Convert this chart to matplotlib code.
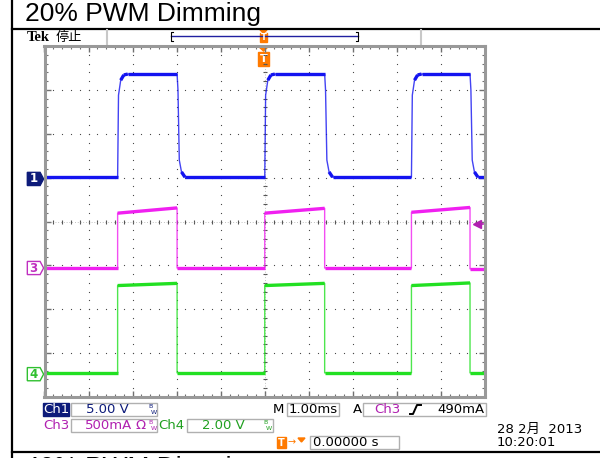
import matplotlib.pyplot as plt
import numpy as np
from matplotlib.patches import Rectangle, Polygon

# time in ms (1.00 ms/div, trigger at 0), amplitude in screen divisions
blue_t = [-5.0, -3.34, -3.32, -3.27, -3.20, -3.11, -1.99, -1.97, -1.94, -1.89, -1.81,
          0.0, 0.02, 0.07, 0.14, 0.23, 1.36, 1.38, 1.41, 1.46, 1.54,
          3.33, 3.35, 3.40, 3.47, 3.56, 4.66, 4.68, 4.71, 4.76, 4.84, 5.0]
blue_v = [1.01, 1.01, 2.88, 3.22, 3.34, 3.36, 3.36, 3.0, 1.40, 1.13, 1.01,
          1.01, 2.88, 3.22, 3.34, 3.36, 3.36, 3.0, 1.40, 1.13, 1.01,
          1.01, 2.88, 3.22, 3.34, 3.36, 3.36, 3.0, 1.40, 1.13, 1.01, 1.01]

mag_t = [-5.0, -3.34, -3.34, -1.99, -1.99, 0.0, 0.0, 1.36, 1.36, 3.33, 3.33, 4.66, 4.66, 5.0]
mag_v = [-1.06, -1.06, 0.19, 0.31, -1.06, -1.06, 0.19, 0.30, -1.06, -1.06, 0.21, 0.32, -1.08, -1.08]

green_t = [-5.0, -3.34, -3.34, -1.99, -1.99, 0.0, 0.0, 1.36, 1.36, 3.33, 3.33, 4.66, 4.66, 5.0]
green_v = [-3.45, -3.45, -1.46, -1.41, -3.45, -3.45, -1.46, -1.41, -3.45, -3.45, -1.46, -1.40, -3.45, -3.45]

ch_levels = [0.97, -1.06, -3.48]   # ground markers for Ch1, Ch3, Ch4
ch_names = ['1', '3', '4']
trig_level = -0.06

BLUE = '#1414f0'
MAG = '#f020f0'
GREEN = '#22e022'
NAVY = '#0d1b7a'
PURP = '#b020b0'
DGREEN = '#20a020'
ORANGE = '#ff7a00'

fig = plt.figure(figsize=(6, 4.58), dpi=100)

# background axes in pixel coordinates
bg = fig.add_axes([0, 0, 1, 1])
bg.set_xlim(0, 600)
bg.set_ylim(458, 0)
bg.axis('off')

bg.plot([12, 12], [0, 458], color='black', lw=1.6)
bg.plot([12, 600], [29, 29], color='black', lw=1.6)
bg.plot([12, 600], [451.5, 451.5], color='black', lw=1.6)
bg.text(25, 21.5, '20% PWM Dimming', fontsize=19, family='Liberation Sans', va='baseline')
bg.text(25, 475, '40% PWM Dimming', fontsize=19, family='Liberation Sans', va='baseline')

# status bar
bg.text(27, 37.5, 'Tek', fontsize=10.5, fontweight='bold', family='Liberation Serif', va='center')
bg.text(56, 37.5, '停止', fontsize=9.5, family='Noto Sans CJK SC', va='center')
bg.plot([107, 107], [30, 44], color='#c8c8c8', lw=1.5)
bg.plot([421, 421], [30, 44], color='#c8c8c8', lw=1.5)
bg.plot([171, 358], [36, 36], color='#2020a0', lw=1.0)
bg.plot([173, 171, 171, 173], [32, 32, 41, 41], color='black', lw=0.8)
bg.plot([356, 358, 358, 356], [32, 32, 41, 41], color='black', lw=0.8)
bg.add_patch(Polygon([(260, 30), (267, 30), (263.5, 33)], color=ORANGE))
bg.add_patch(Rectangle((260, 33), 7, 9, color=ORANGE))
bg.text(263.5, 37.5, 'T', color='white', fontsize=6, fontweight='bold', ha='center', va='center')
bg.add_patch(Polygon([(258, 46), (269, 46), (263.5, 51)], color=ORANGE))
bg.add_patch(Rectangle((258, 52), 11, 14, color=ORANGE))
bg.text(263.5, 59, 'T', color='white', fontsize=8, fontweight='bold', ha='center', va='center')

# readout
def box(x, y, w, h):
    bg.add_patch(Rectangle((x, y), w, h, fill=False, edgecolor='#b0b0b0', lw=1))

def bw(x, y, c):
    bg.text(x, y - 3, 'B', fontsize=4.5, color=c, ha='left', va='center')
    bg.text(x + 3, y + 2.5, 'W', fontsize=4.5, color=c, ha='left', va='center')

fs = 9.5
r1, r2, r3 = 409.5, 425.5, 442.5
bg.add_patch(Rectangle((43, 403), 26, 13, color=NAVY))
bg.text(56, r1, 'Ch1', color='white', fontsize=fs, ha='center', va='center')
box(71, 403, 86, 13)
bg.text(86, r1, '5.00 V', color=NAVY, fontsize=fs, va='center')
bw(148, r1, NAVY)
bg.text(273, r1, 'M', color='black', fontsize=fs, va='center')
box(287, 403, 52, 13)
bg.text(289, r1, '1.00ms', color='black', fontsize=fs, va='center')
bg.text(353, r1, 'A', color='black', fontsize=fs, va='center')
box(363, 403, 123, 13)
bg.text(374, r1, 'Ch3', color=PURP, fontsize=fs, va='center')
bg.plot([410, 413, 417, 421], [414, 414, 405, 405], color='black', lw=1.4)
bg.text(485, r1, '490mA', color='black', fontsize=fs, ha='right', va='center')

bg.text(43, r2, 'Ch3', color=PURP, fontsize=fs, va='center')
box(71, 419, 86, 13)
bg.text(85, r2, '500mA', color=PURP, fontsize=fs, va='center')
bg.text(135, r2, 'Ω', color=PURP, fontsize=fs, va='center')
bw(148, r2, PURP)
bg.text(158, r2, 'Ch4', color=DGREEN, fontsize=fs, va='center')
box(187, 419, 86, 13)
bg.text(202, r2, '2.00 V', color=DGREEN, fontsize=fs, va='center')
bw(263, r2, DGREEN)

bg.add_patch(Rectangle((277, 437), 9, 11, color=ORANGE))
bg.text(281.5, r3, 'T', color='white', fontsize=7, fontweight='bold', ha='center', va='center')
bg.text(287, r3, '→', color=ORANGE, fontsize=7, va='center')
bg.add_patch(Polygon([(298, 438), (305, 438), (301.5, 442)], color=ORANGE))
box(310, 436, 89, 13)
bg.text(313, r3, '0.00000 s', color='black', fontsize=fs, va='center')

bg.text(497, 429, '28 2月  2013', fontsize=fs, family=['DejaVu Sans', 'Noto Sans CJK SC'], va='center')
bg.text(497, 442, '10:20:01', fontsize=fs, va='center')

# scope graticule
ax = fig.add_axes([44.5 / 600, (458 - 397) / 458, 440.5 / 600, 351 / 458])
ax.set_facecolor('none')
ax.set_xlim(-5, 5)
ax.set_ylim(-4, 4)
for s in ax.spines.values():
    s.set_color('#999999')
    s.set_linewidth(2.2)
ax.set_xticks(np.arange(-5, 6, 1))
ax.set_yticks(np.arange(-4, 5, 1))
ax.set_xticks(np.arange(-5, 5.01, 0.2), minor=True)
ax.set_yticks(np.arange(-4, 4.01, 0.2), minor=True)
ax.tick_params(which='both', direction='in', top=True, right=True, color='#707070',
               labelbottom=False, labelleft=False)
ax.tick_params(which='major', length=4, width=1)
ax.tick_params(which='minor', length=2.5, width=0.8)

dots_x = np.arange(-5, 5.01, 0.2)
dots_y = np.arange(-4, 4.01, 0.2)
for gx in range(-4, 5):
    if gx != 0:
        ax.plot(np.full(len(dots_y), gx), dots_y, ls='none', marker='s', ms=0.8, mew=0, color='#4a4a4a')
for gy in range(-3, 4):
    if gy != 0:
        ax.plot(dots_x, np.full(len(dots_x), gy), ls='none', marker='s', ms=0.8, mew=0, color='#4a4a4a')
ax.plot(dots_x, np.zeros(len(dots_x)), ls='none', marker='|', ms=3, mew=0.8, color='#555555')
ax.plot(np.zeros(len(dots_y)), dots_y, ls='none', marker='_', ms=3, mew=0.8, color='#555555')
ax.plot([-5, 5], [0, 0], color='#888888', lw=0.5, ls=(0, (1, 3)))
ax.plot([0, 0], [-4, 4], color='#888888', lw=0.5, ls=(0, (1, 3)))

def trace(t, v, color):
    t = np.array(t)
    v = np.array(v)
    ax.plot(t, v, color=color, lw=1.0, alpha=0.8)
    flat = (np.abs(np.diff(v)) < 0.15) & (np.diff(t) > 0.05)
    for i in np.where(flat)[0]:
        ax.plot(t[i:i + 2], v[i:i + 2], color=color, lw=2.4, solid_capstyle='butt')

trace(blue_t, blue_v, BLUE)
trace(mag_t, mag_v, MAG)
trace(green_t, green_v, GREEN)

# channel ground markers
faces = [NAVY, 'white', 'white']
edges = [NAVY, '#c030c0', '#30c030']
txts = ['white', '#c030c0', '#30c030']
for lvl, name, fc, ec, tc in zip(ch_levels, ch_names, faces, edges, txts):
    poly = [(-5.39, lvl - 0.15), (-5.1, lvl - 0.15), (-5.02, lvl), (-5.1, lvl + 0.15), (-5.39, lvl + 0.15)]
    ax.add_patch(Polygon(poly, closed=True, facecolor=fc, edgecolor=ec, lw=1, clip_on=False))
    ax.text(-5.25, lvl, name, color=tc, fontsize=8.5, fontweight='bold', ha='center', va='center')

# trigger level
ax.plot([4.8, 4.95], [trig_level, trig_level], color=PURP, lw=1.2)
ax.plot([4.82], [trig_level], marker='<', ms=6, color=PURP)

fig.savefig('out.png', dpi=100)
